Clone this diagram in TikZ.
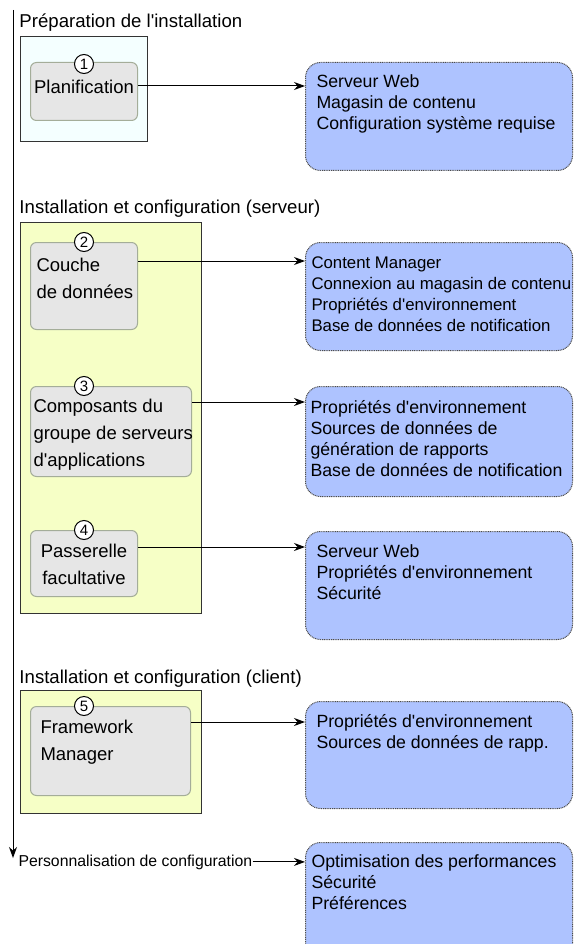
\documentclass[tikz,border=0pt]{standalone}
\usepackage{fontspec}
\setmainfont{Liberation Sans}
\usetikzlibrary{arrows.meta, positioning}
\definecolor{prepfill}{HTML}{F4FFFF}
\definecolor{stagefill}{HTML}{F6FFC6}
\definecolor{stepfill}{HTML}{E6E6E6}
\definecolor{stepline}{HTML}{A4AD99}
\definecolor{taskfill}{HTML}{AEC3FF}
\newcommand{\apos}{\textquotesingle}

\begin{document}
\begin{tikzpicture}[x=1pt, y=-1pt,
   line width = 1pt,
            > = {Stealth[length=11pt, width=8pt]},
   phase/.style = {draw=black!80, anchor=north west, inner sep=0pt},
 stepbox/.style = {draw=stepline, fill=stepfill, rounded corners=6pt,
                   anchor=north west, inner sep=0pt},
   tasks/.style = {draw=black!70, dash pattern=on 1pt off 0.8pt, fill=taskfill,
                   rounded corners=15pt, anchor=north west, inner sep=0pt,
                   minimum width=267pt},
 stepnum/.style = {circle, draw, fill=white, inner sep=0pt, minimum size=19pt,
                   font=\fontsize{15}{15}\selectfont},
phasetitle/.style = {anchor=base west, inner sep=0pt, font=\fontsize{18.6}{21}\selectfont},
tasktext/.style = {anchor=base west, align=left, inner sep=0pt,
                   font=\fontsize{17.7}{21}\selectfont},
steptext/.style = {anchor=base west, align=left, inner sep=0pt,
                   font=\fontsize{18.5}{27}\selectfont},
         ]
\clip (0,0) rectangle (574,944);

% timeline
\coordinate (start) at (13,10);
\coordinate (finish) at (13,858);
\draw[->] (start) -- (finish);

% preparation (base = last line)
\node (h1) [phasetitle] at (19,28) {Préparation de l\apos installation};
\node (p1) [phase, fill=prepfill, minimum width=127pt, minimum height=105pt] at (20,36) {};
\node (s1) [stepbox, minimum width=107pt, minimum height=58pt] at (30,62) {};
\node (s1t) [steptext, anchor=base] at (84,94) {Planification};
\node (n1) [stepnum] at (84,64) {1};
\node (b1) [tasks, minimum height=108pt] at (305,62) {};
\node (b1t) [tasktext] at (316,130) {Serveur Web\\Magasin de contenu\\Configuration système requise};

% server
\node (h2) [phasetitle] at (19,213) {Installation et configuration (serveur)};
\node (p2) [phase, fill=stagefill, minimum width=181pt, minimum height=391pt] at (20,222) {};
\node (s2) [stepbox, minimum width=107pt, minimum height=87pt] at (30,242) {};
\node (s2t) [steptext] at (36,298) {Couche\\de données};
\node (n2) [stepnum] at (84,242) {2};
\node (b2) [tasks, minimum height=108pt] at (305,242) {};
\node (b2t) [tasktext, font=\fontsize{16.8}{21}\selectfont] at (311,331) {Content Manager\\Connexion au magasin de contenu\\Propriétés d\apos environnement\\Base de données de notification};

\node (s3) [stepbox, minimum width=161pt, minimum height=90pt] at (30,386) {};
\node (s3t) [steptext] at (33,466) {Composants du\\groupe de serveurs\\d\apos applications};
\node (n3) [stepnum] at (84,386) {3};
\node (b3) [tasks, minimum height=110pt] at (305,386) {};
\node (b3t) [tasktext] at (310,476) {Propriétés d\apos environnement\\Sources de données de\\génération de rapports\\Base de données de notification};

\node (s4) [stepbox, minimum width=107pt, minimum height=66pt] at (30,530) {};
\node (s4t) [steptext, anchor=base, align=center] at (84,584) {Passerelle\\facultative};
\node (n4) [stepnum] at (84,530) {4};
\node (b4) [tasks, minimum height=108pt] at (305,531) {};
\node (b4t) [tasktext] at (316,599) {Serveur Web\\Propriétés d\apos environnement\\Sécurité};

% client
\node (h3) [phasetitle] at (19,683) {Installation et configuration (client)};
\node (p3) [phase, fill=stagefill, minimum width=181pt, minimum height=123pt] at (20,690) {};
\node (s5) [stepbox, minimum width=160pt, minimum height=89pt] at (30,706) {};
\node (s5t) [steptext] at (40,760) {Framework\\Manager};
\node (n5) [stepnum] at (84,706) {5};
\node (b5) [tasks, minimum height=107pt] at (305,701) {};
\node (b5t) [tasktext] at (316,748) {Propriétés d\apos environnement\\Sources de données de rapp.};

% customisation
\node (h4) [phasetitle, font=\fontsize{15.8}{21}\selectfont] at (18,866) {Personnalisation de configuration};
\node (b6) [tasks, minimum height=120pt] at (305,842) {};
\node (b6t) [tasktext] at (311,909) {Optimisation des performances\\Sécurité\\Préférences};

%
\draw[->] ([yshift=-24pt]s1.north east) -- ([yshift=-24pt]s1.north east -| b1.west);
\draw[->] ([yshift=-19pt]s2.north east) -- ([yshift=-19pt]s2.north east -| b2.west);
\draw[->] ([yshift=-16pt]s3.north east) -- ([yshift=-16pt]s3.north east -| b3.west);
\draw[->] ([yshift=-17pt]s4.north east) -- ([yshift=-17pt]s4.north east -| b4.west);
\draw[->] ([yshift=-16pt]s5.north east) -- ([yshift=-16pt]s5.north east -| b5.west);
\draw[->] (h4.east) -- (h4.east -| b6.west);
\end{tikzpicture}
\end{document}
